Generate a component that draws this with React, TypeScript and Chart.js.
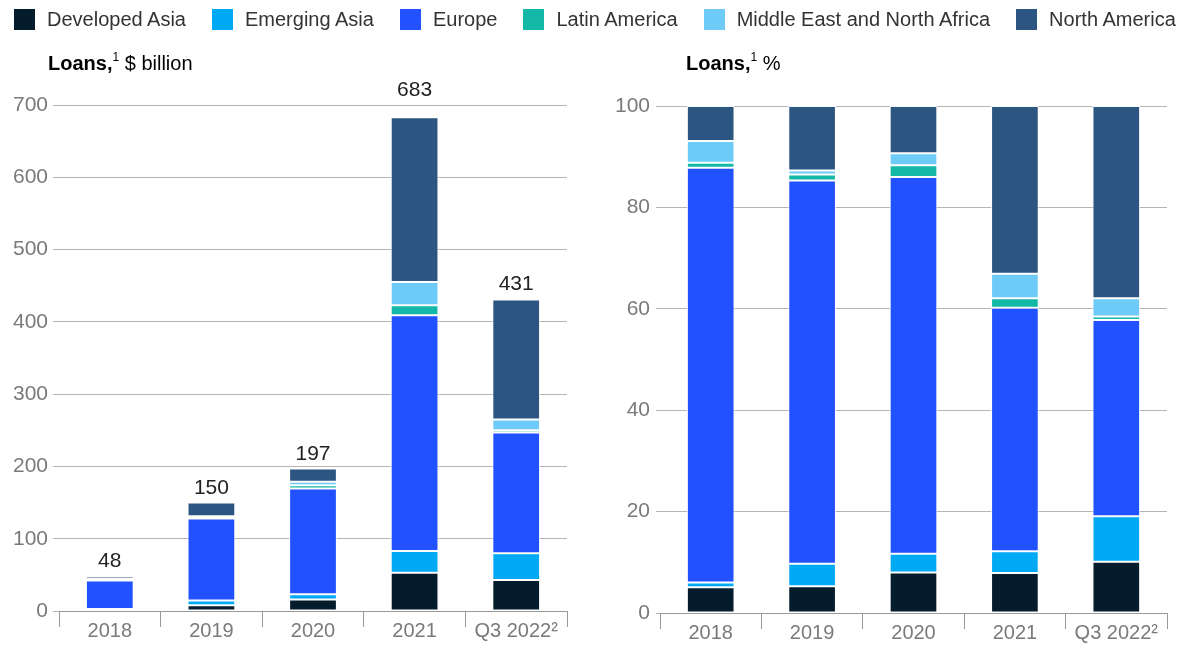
import React, { useEffect, useRef } from "react";
import { Chart, registerables } from "chart.js";

Chart.register(...registerables);

const categories = ["2018", "2019", "2020", "2021", "Q3 2022\u00B2"];
const seriesNames = [
  "Developed Asia",
  "Emerging Asia",
  "Europe",
  "Latin America",
  "Middle East and North Africa",
  "North America",
];
const seriesColors = ["#051c2c", "#00a9f4", "#2251ff", "#14b8a6", "#6ecbf7", "#2c5681"];

// $ billion
const developedAsiaBn = [2.4, 8, 16, 53, 43];
const emergingAsiaBn = [0.5, 6.5, 7.2, 30, 37];
const europeBn = [39.2, 113.5, 146.3, 326, 167];
const latinAmericaBn = [0.4, 1.8, 4.5, 14, 3];
const menaBn = [2.0, 1.2, 4.8, 32, 15];
const northAmericaBn = [3.5, 19, 18.2, 228, 166];
const totalsBn = [48, 150, 197, 683, 431];

// %
const developedAsiaPct = [5.1, 5.3, 8.0, 7.9, 10.1];
const emergingAsiaPct = [0.9, 4.4, 3.7, 4.3, 9.0];
const europePct = [81.8, 75.6, 74.3, 48.0, 38.7];
const latinAmericaPct = [1.0, 1.2, 2.3, 1.9, 0.7];
const menaPct = [4.3, 0.8, 2.4, 4.8, 3.6];
const northAmericaPct = [6.9, 12.7, 9.3, 33.1, 37.9];

const leftTicks = [0, 100, 200, 300, 400, 500, 600, 700];
const rightTicks = [0, 20, 40, 60, 80, 100];

const FONT = "'Liberation Sans', Arial, sans-serif";
const GRID = "#b5b5b5";
const TICK_TEXT = "#7a7a7a";

function makeDatasets(values: number[][]) {
  return values.map((data, i) => ({
    label: seriesNames[i],
    data,
    backgroundColor: seriesColors[i],
    borderColor: "rgba(255,255,255,0.9)",
    borderWidth: 1,
    borderSkipped: false as const,
    barPercentage: 0.47,
    categoryPercentage: 1,
    stack: "s",
  }));
}

const totalsPlugin = (totals: number[] | null) => ({
  id: "totals",
  afterDatasetsDraw(chart: any) {
    if (!totals) return;
    const ctx = chart.ctx;
    const last = chart.getDatasetMeta(chart.data.datasets.length - 1);
    const areaTop = chart.chartArea.top;
    ctx.save();
    ctx.font = `21px ${FONT}`;
    ctx.fillStyle = "#222";
    ctx.textAlign = "center";
    ctx.textBaseline = "alphabetic";
    last.data.forEach((el: any, i: number) => {
      let y = el.y - 9;
      // keep the label clear of the top gridline
      if (y - 16 < areaTop && y > areaTop - 9) y = areaTop - 9;
      ctx.fillText(String(totals[i]), el.x, y);
    });
    ctx.restore();
  },
});

function StackChart(props: {
  values: number[][];
  ticks: number[];
  max: number;
  totals: number[] | null;
  padTop: number;
  padRight: number;
  yWidth: number;
  xHeight: number;
  yTickLen: number;
  yPad: number;
}) {
  const ref = useRef<HTMLCanvasElement>(null);
  useEffect(() => {
    const chart = new Chart(ref.current!, {
      type: "bar",
      data: { labels: categories, datasets: makeDatasets(props.values) as any },
      options: {
        animation: false,
        responsive: false,
        maintainAspectRatio: false,
        layout: { padding: { top: props.padTop, right: props.padRight, left: 0, bottom: 0 } },
        plugins: { legend: { display: false }, tooltip: { enabled: false }, title: { display: false } },
        scales: {
          x: {
            stacked: true,
            grid: {
              offset: true,
              drawOnChartArea: false,
              drawTicks: true,
              tickLength: 16,
              color: "#9a9a9a",
              lineWidth: 1,
            },
            border: { display: true, color: "#9a9a9a", width: 1 },
            ticks: {
              font: { family: FONT, size: 20 },
              color: TICK_TEXT,
              maxRotation: 0,
              autoSkip: false,
              padding: -8,
            },
            afterFit(scale: any) {
              scale.height = props.xHeight;
            },
          },
          y: {
            stacked: true,
            min: 0,
            max: props.max,
            afterBuildTicks(scale: any) {
              scale.ticks = props.ticks.map((v) => ({ value: v }));
            },
            grid: {
              color: GRID,
              lineWidth: 1,
              drawTicks: true,
              tickLength: props.yTickLen,
            },
            border: { display: false },
            ticks: {
              font: { family: FONT, size: 21 },
              color: TICK_TEXT,
              padding: props.yPad,
            },
            afterFit(scale: any) {
              scale.width = props.yWidth;
            },
          },
        },
      },
      plugins: [totalsPlugin(props.totals)],
    });
    return () => chart.destroy();
  }, []);
  return <canvas ref={ref} width={props.padRight + 567} height={645} />;
}

export default function App() {
  useEffect(() => {
    document.body.style.margin = "0";
  }, []);
  const sup = { fontSize: 12, verticalAlign: "top", position: "relative" as const, top: -2 };
  return (
    <div style={{ position: "relative", width: 1188, height: 645, fontFamily: FONT, background: "#fff", overflow: "hidden" }}>
      <div style={{ position: "absolute", left: 0, top: 0 }}>
        <StackChart
          values={[developedAsiaBn, emergingAsiaBn, europeBn, latinAmericaBn, menaBn, northAmericaBn]}
          ticks={leftTicks}
          max={700}
          totals={totalsBn}
          padTop={105}
          padRight={33}
          yWidth={59}
          xHeight={34}
          yTickLen={6}
          yPad={5}
        />
      </div>
      <div style={{ position: "absolute", left: 600, top: 0 }}>
        <StackChart
          values={[developedAsiaPct, emergingAsiaPct, europePct, latinAmericaPct, menaPct, northAmericaPct]}
          ticks={rightTicks}
          max={100}
          totals={null}
          padTop={106}
          padRight={21}
          yWidth={60}
          xHeight={32}
          yTickLen={4}
          yPad={6}
        />
      </div>
      <div style={{ position: "absolute", left: 14, top: 8, display: "flex", alignItems: "center", fontSize: 20, color: "#333", lineHeight: "22px", whiteSpace: "nowrap" }}>
        {seriesNames.map((n, i) => (
          <div key={n} style={{ display: "flex", alignItems: "center", marginRight: 26, flexShrink: 0 }}>
            <span style={{ width: 21, height: 21, background: seriesColors[i], display: "inline-block", marginRight: 12, flexShrink: 0 }} />
            <span>{n}</span>
          </div>
        ))}
      </div>
      <div style={{ position: "absolute", left: 48, top: 52, fontSize: 20, color: "#000", whiteSpace: "nowrap" }}>
        <b>Loans,</b>
        <span style={sup}>1</span> $ billion
      </div>
      <div style={{ position: "absolute", left: 686, top: 52, fontSize: 20, color: "#000", whiteSpace: "nowrap" }}>
        <b>Loans,</b>
        <span style={sup}>1</span> %
      </div>
    </div>
  );
}
